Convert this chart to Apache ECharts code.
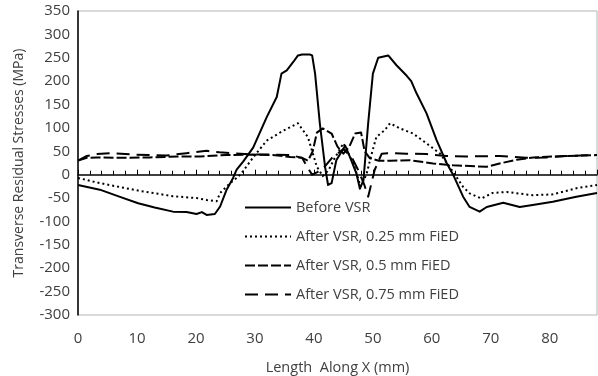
<!DOCTYPE html>
<html>
<head>
<meta charset="utf-8">
<script src="https://cdn.jsdelivr.net/npm/echarts@6/dist/echarts.min.js"></script>
<style>html,body{margin:0;padding:0;background:#fff;}#c{width:598px;height:376px;}</style>
</head>
<body>
<div id="c"></div>
<script>
var seriesNames = ['Before VSR', 'After VSR, 0.25 mm FiED', 'After VSR, 0.5 mm FiED', 'After VSR, 0.75 mm FiED'];
var xTicks = [0, 10, 20, 30, 40, 50, 60, 70, 80];
var yTicks = [-300, -250, -200, -150, -100, -50, 0, 50, 100, 150, 200, 250, 300, 350];

var beforeVSR = [[0,-22],[3.7,-32],[7,-47],[10.2,-61],[13,-70],[16.1,-79],[18.4,-80],[20.1,-84],[21,-80],[21.8,-86],[23.2,-84],[24.1,-68],[25.2,-32],[26.3,-7],[26.9,11],[28,28],[29.7,58],[32,123],[33.7,166],[34.5,216],[35.4,223],[36.5,241],[37.3,255],[38,257],[39.3,257],[39.7,255],[40.2,216],[41,110],[41.9,16],[42.4,-22],[43,-18],[43.8,31],[45.3,62],[46.1,38],[47.2,3],[47.8,-30],[48.4,-12],[49.2,110],[50,216],[50.9,250],[52.6,255],[54,234],[55.7,212],[56.5,200],[57.4,174],[59.1,131],[60.8,74],[62.5,25],[63.6,0],[65.3,-47],[66.4,-69],[68.1,-79],[69.3,-69],[72.1,-60],[74.9,-69],[77.1,-65],[80.5,-58],[84.5,-47],[88,-39]];

var fied025 = [[0,-7],[3.7,-18],[10.2,-34],[16.1,-46],[20.1,-50],[21.8,-54],[23.5,-57],[24.1,-39],[25.8,-18],[27.2,-4],[28,8],[29.7,37],[32,73],[34.8,94],[37.3,110],[39,80],[39.8,46],[40.5,17],[41.5,-3],[42.5,10],[43.5,35],[45,67],[46.7,24],[47.9,-25],[48.9,0],[49.8,45],[50.6,81],[52,95],[52.9,110],[54.6,99],[56.8,88],[59.1,67],[61.4,45],[63,17],[63.9,0],[65.3,-26],[66.4,-40],[68.4,-51],[70.3,-39],[72.7,-37],[77.1,-44],[80.5,-42],[84.5,-29],[88,-22]];

var fied05 = [[0,30],[1.5,36],[3.2,37],[6.5,36],[12.2,37],[17.9,39],[20.7,39],[25.2,42],[29.7,43],[33,42],[36,38],[38,36],[39,30],[39.8,50],[40.5,90],[41.5,99],[43,88],[44,60],[45,45],[46,60],[47,88],[48,90],[48.6,50],[49.5,35],[51,30],[53,30],[56.3,31],[60.2,24],[63.6,20],[69.3,17],[71.5,24],[74.4,32],[77.2,37],[82.8,40],[88,42]];

var fied075 = [[0,30],[1.5,40],[3.2,44],[5.4,46],[9.4,43],[15,41],[18.4,46],[21.8,51],[24,48],[26.3,46],[29.7,43],[33,43],[36,42],[38,36],[39,14],[39.7,0],[40.5,5],[41.5,12],[43,35],[45,55],[46.5,35],[47.5,10],[48.5,-20],[49.2,-47],[50.3,10],[51.5,45],[52.5,46],[55.7,45],[59.1,44],[62.5,40],[65.9,39],[71.5,40],[76,36],[79.4,37],[82.8,40],[88,42]];

var FONT = 'Open Sans';
var TXT = '#404040';
var chart = echarts.init(document.getElementById('c'), null, {renderer: 'canvas'});

function lineSeries(name, data, type, width) {
  return {
    name: name, type: 'line', data: data, xAxisIndex: 0, yAxisIndex: 0,
    symbol: 'none', showSymbol: false, smooth: false,
    lineStyle: {color: '#000', width: width, type: type, cap: 'butt', join: 'round'},
    itemStyle: {color: '#000'}
  };
}

var xMin = xTicks[0], xMax = 88, xInt = xTicks[1] - xTicks[0];
var yMin = yTicks[0], yMax = yTicks[yTicks.length - 1], yInt = yTicks[1] - yTicks[0];

chart.setOption({
  animation: false,
  grid: {left: 78, right: 1, top: 11, bottom: 61, show: true, borderColor: '#b4b4b4', outerBoundsMode: 'none'},
  legend: {
    data: seriesNames, orient: 'vertical', left: 239, top: 195,
    itemWidth: 46, itemHeight: 14, itemGap: 14,
    itemStyle: {opacity: 0},
    textStyle: {fontFamily: FONT, fontSize: 14.5, color: TXT}
  },
  xAxis: [
    {type: 'value', min: xMin, max: xMax, interval: xInt, position: 'bottom',
     axisLine: {show: false, onZero: false}, axisTick: {show: false}, splitLine: {show: false},
     axisLabel: {fontFamily: FONT, fontSize: 15, color: TXT, margin: 16, showMaxLabel: false},
     name: 'Length  Along X (mm)', nameLocation: 'middle', nameGap: 45,
     nameTextStyle: {fontFamily: FONT, fontSize: 14.5, color: TXT}},
    {type: 'value', min: xMin, max: xMax, interval: xInt, position: 'top',
     axisLine: {show: true, onZero: true, lineStyle: {color: '#000', width: 1.5}},
     axisTick: {show: true, inside: false, length: 5, lineStyle: {color: '#000', width: 1}},
     minorTick: {show: true, splitNumber: 5, length: 4, lineStyle: {color: '#000', width: 1}},
     axisLabel: {show: false}, splitLine: {show: false}}
  ],
  yAxis: [
    {type: 'value', min: yMin, max: yMax, interval: yInt,
     axisLine: {show: true, onZero: false, lineStyle: {color: '#000', width: 1.5}},
     axisTick: {show: false}, splitLine: {show: false},
     axisLabel: {fontFamily: FONT, fontSize: 15, color: TXT, margin: 8},
     name: 'Transverse Residual Stresses (MPa)', nameLocation: 'middle', nameGap: 52,
     nameTextStyle: {fontFamily: FONT, fontSize: 14, color: TXT}}
  ],
  series: [
    lineSeries(seriesNames[0], beforeVSR, 'solid', 2),
    lineSeries(seriesNames[1], fied025, [2, 3], 2),
    lineSeries(seriesNames[2], fied05, [10, 3], 2),
    lineSeries(seriesNames[3], fied075, [13, 7], 2)
  ]
});
</script>
</body>
</html>
